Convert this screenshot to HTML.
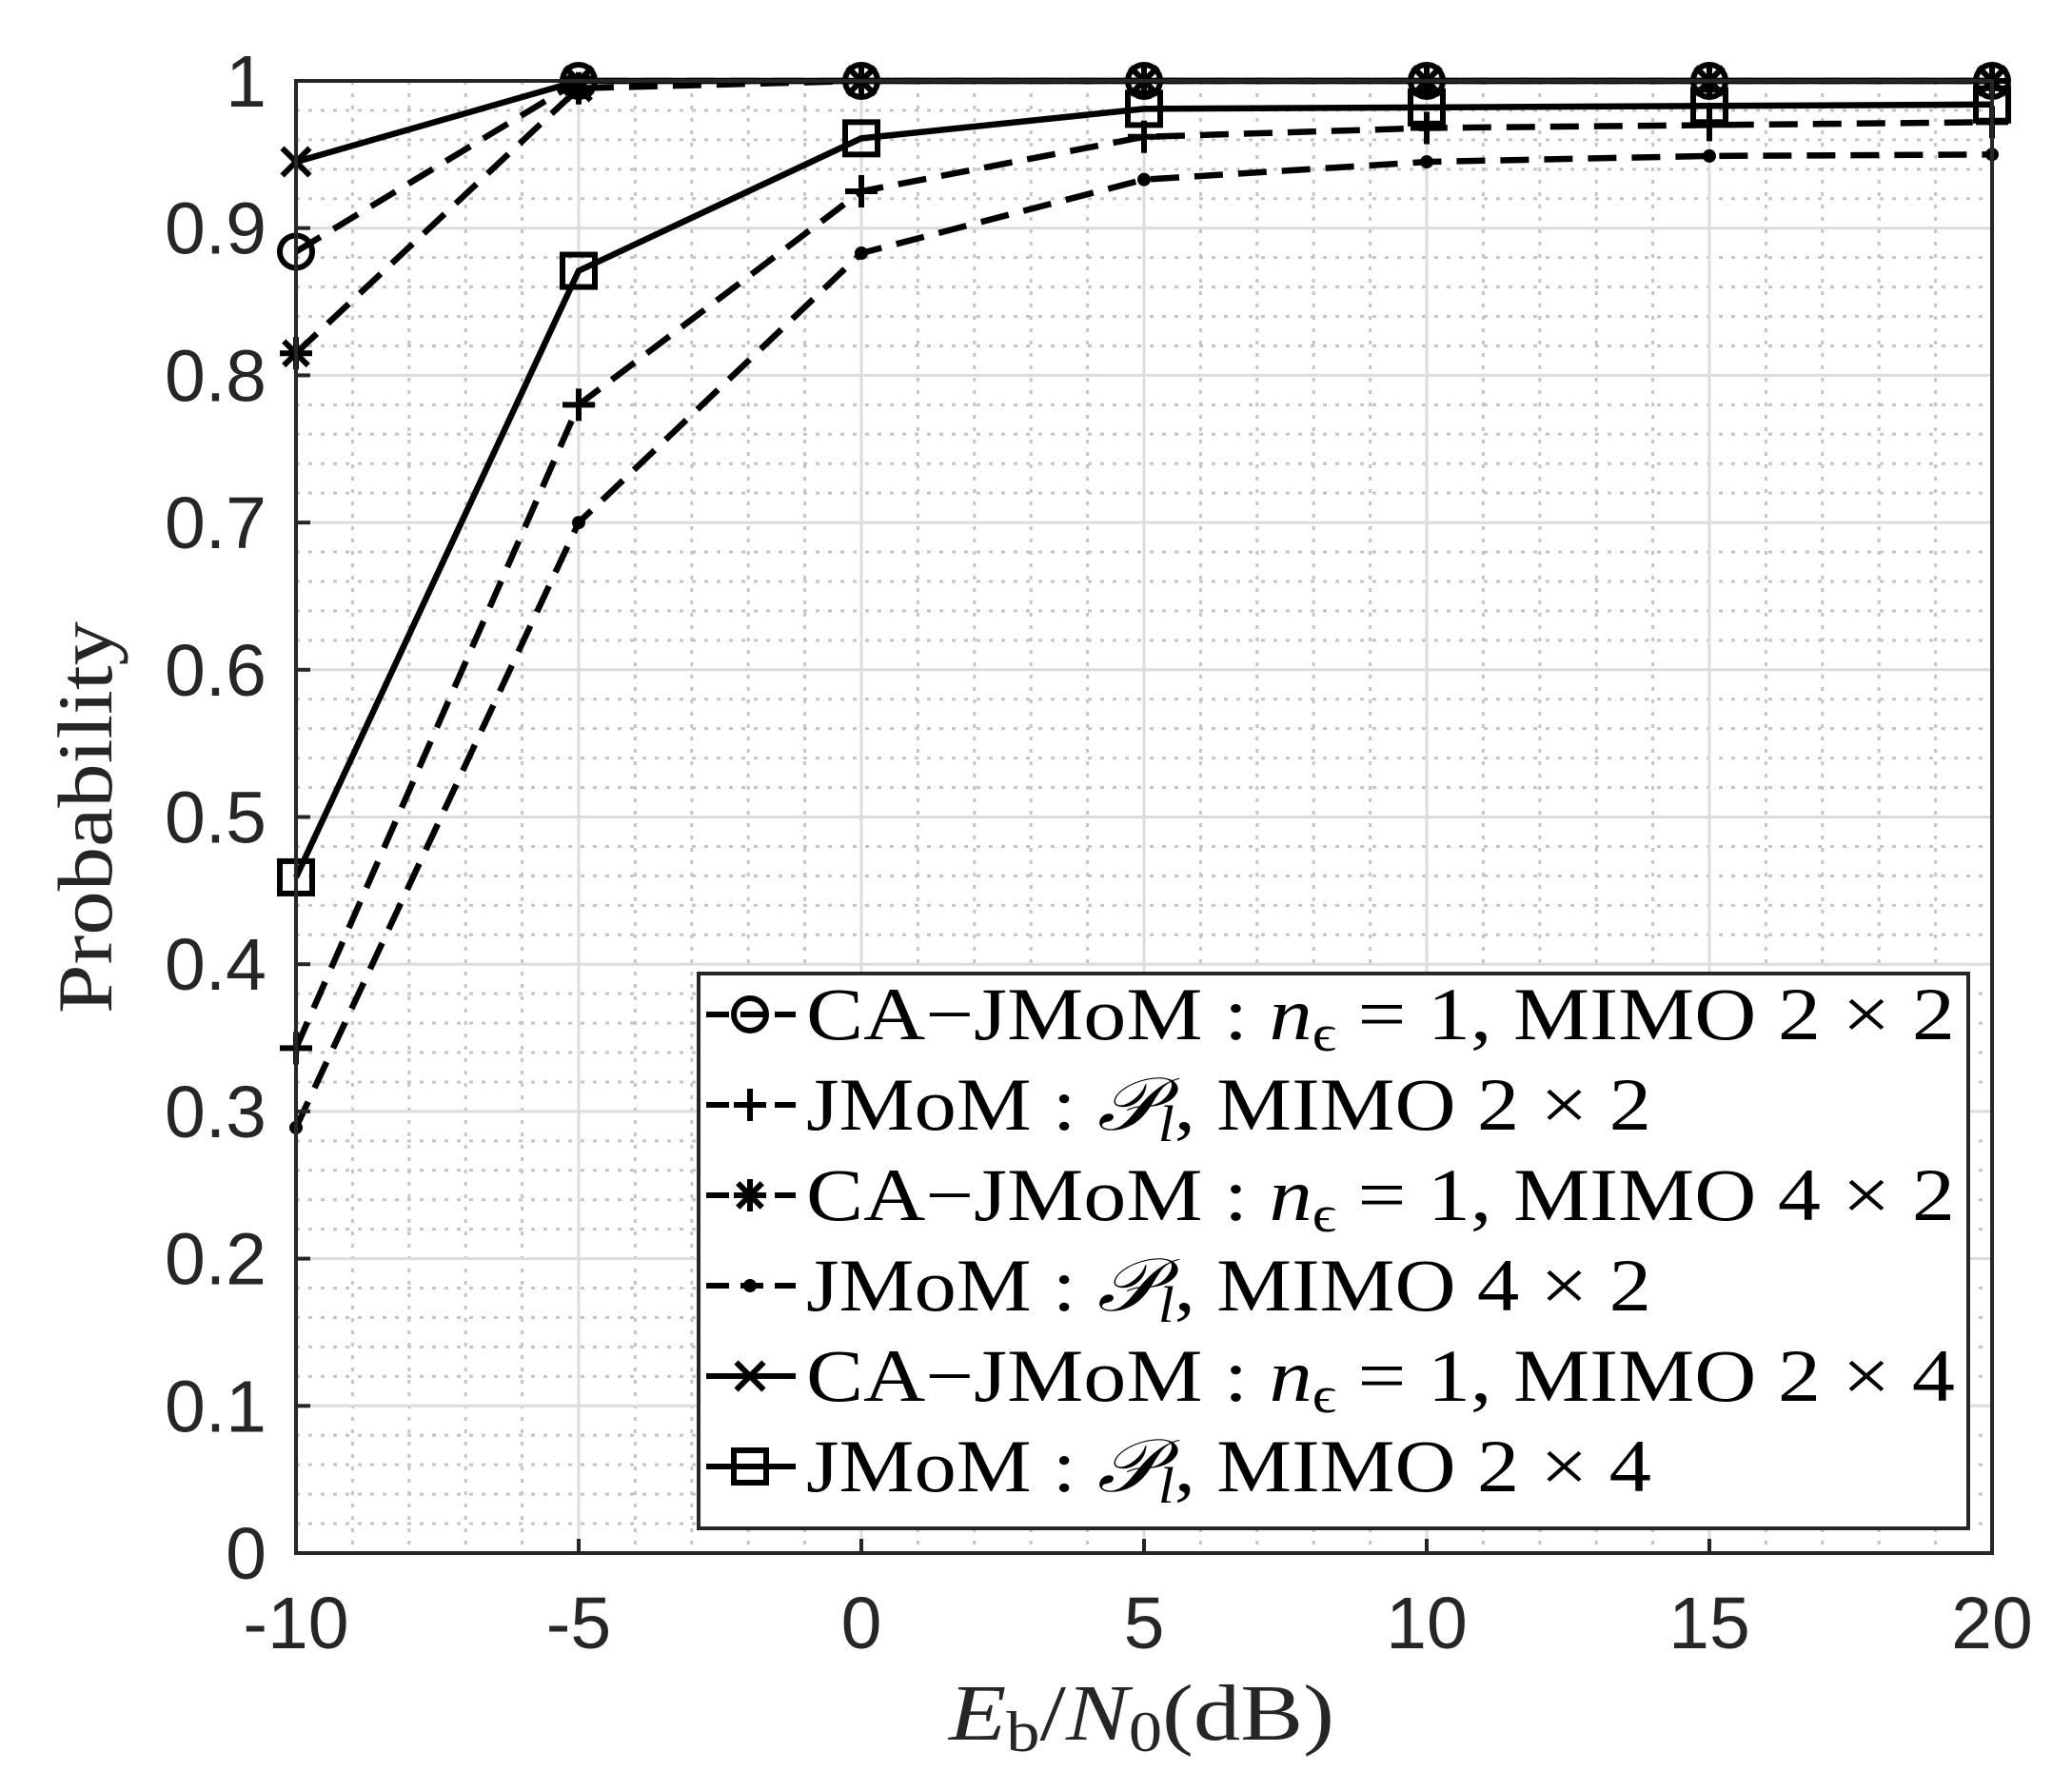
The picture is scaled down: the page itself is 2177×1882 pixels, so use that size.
<!DOCTYPE html>
<html><head><meta charset="utf-8"><style>
html,body{margin:0;padding:0;background:#fff;}
svg{display:block;}
</style></head><body>
<svg id="chart" width="2177" height="1882" viewBox="0 0 2177 1882" xmlns="http://www.w3.org/2000/svg">
<rect x="0" y="0" width="2177" height="1882" fill="#fff"/>
<g id="grid"></g>
<g id="series"></g>
<g id="axes"></g>
<g id="legend"></g>
<text transform="translate(117,859) rotate(-90)" text-anchor="middle" font-family="Liberation Serif, serif" font-size="82" fill="#262626" textLength="412" lengthAdjust="spacingAndGlyphs">Probability</text>
<text x="997" y="1828" font-family="Liberation Serif, serif" font-size="84" fill="#262626" textLength="405" lengthAdjust="spacingAndGlyphs"><tspan font-style="italic">E</tspan><tspan font-size="60" dy="12">b</tspan><tspan dy="-12">/</tspan><tspan font-style="italic">N</tspan><tspan font-size="60" dy="12">0</tspan><tspan dy="-12">(dB)</tspan></text>
</svg>
<script>
const xValues = [-10, -5, 0, 5, 10, 15, 20];
const xTicks = [-10, -5, 0, 5, 10, 15, 20];
const yTicks = [0, 0.1, 0.2, 0.3, 0.4, 0.5, 0.6, 0.7, 0.8, 0.9, 1];
const yTickLabels = ["0","0.1","0.2","0.3","0.4","0.5","0.6","0.7","0.8","0.9","1"];
const caJmom22 = [0.884, 1, 1, 1, 1, 1, 1];
const jmom22 = [0.343, 0.780, 0.925, 0.962, 0.968, 0.970, 0.972];
const caJmom42 = [0.815, 0.995, 1, 1, 1, 1, 1];
const jmom42 = [0.289, 0.700, 0.883, 0.933, 0.945, 0.949, 0.950];
const caJmom24 = [0.945, 1, 1, 1, 1, 1, 1];
const jmom24 = [0.459, 0.871, 0.961, 0.981, 0.982, 0.983, 0.984];

const L=311,R=2093,T=85,B=1632;
const NS="http://www.w3.org/2000/svg";
function sx(v){return L+(v+10)/30*(R-L);}
function sy(v){return B-v*(B-T);}
function mk(tag,attrs,parent){const e=document.createElementNS(NS,tag);for(const k in attrs)e.setAttribute(k,attrs[k]);parent.appendChild(e);return e;}
const grid=document.getElementById('grid'),axes=document.getElementById('axes'),ser=document.getElementById('series'),leg=document.getElementById('legend');

for(let v=-10;v<=20;v++){ if(v%5===0)continue;
  const l=mk('line',{x1:sx(v),x2:sx(v),y1:T,y2:B,stroke:'#c4c4c4','stroke-width':3,'stroke-dasharray':'4 9'},grid);
  
  
}
for(let i=1;i<50;i++){ if(i%5===0)continue; const v=i*0.02;
  const l=mk('line',{x1:L,x2:R,y1:sy(v),y2:sy(v),stroke:'#c4c4c4','stroke-width':3,'stroke-dasharray':'4 9'},grid);
  
  
}
xTicks.forEach(v=>{
  const l=mk('line',{x1:sx(v),x2:sx(v),y1:T,y2:B,stroke:'#dcdcdc','stroke-width':3},grid);
  
  
});
yTicks.forEach(v=>{
  const l=mk('line',{x1:L,x2:R,y1:sy(v),y2:sy(v),stroke:'#dcdcdc','stroke-width':3},grid);
  
  
});

function marker(type,x,y,g){
  const s=17,st={stroke:'#000','stroke-width':6,fill:'none'};
  let e;
  if(type==='circle'){e=mk('circle',Object.assign({cx:x,cy:y,r:s},st),g);}
  else if(type==='square'){e=mk('rect',Object.assign({x:x-s,y:y-s,width:2*s,height:2*s},st),g);}
  else if(type==='plus'){e=mk('path',Object.assign({d:`M${x-s} ${y}H${x+s}M${x} ${y-s}V${y+s}`},st),g);}
  else if(type==='x'){const d=s*0.85;e=mk('path',Object.assign({d:`M${x-d} ${y-d}L${x+d} ${y+d}M${x-d} ${y+d}L${x+d} ${y-d}`},st),g);}
  else if(type==='star'){const d=s*0.75;e=mk('path',Object.assign({d:`M${x-s} ${y}H${x+s}M${x} ${y-s}V${y+s}M${x-d} ${y-d}L${x+d} ${y+d}M${x-d} ${y+d}L${x+d} ${y-d}`},st),g);}
  else {e=mk('circle',{cx:x,cy:y,r:7,fill:'#000'},g);}
  
  
}
const seriesDefs=[
  {name:'jmom-4x2',data:jmom42,m:'dot',dash:'30 16'},
  {name:'jmom-2x2',data:jmom22,m:'plus',dash:'30 16'},
  {name:'ca-jmom-4x2',data:caJmom42,m:'star',dash:'30 16'},
  {name:'ca-jmom-2x2',data:caJmom22,m:'circle',dash:'30 16'},
  {name:'jmom-2x4',data:jmom24,m:'square',dash:''},
  {name:'ca-jmom-2x4',data:caJmom24,m:'x',dash:''}
];
seriesDefs.forEach(s=>{
  const g=mk('g',{},ser);
  
  
  const pts=s.data.map((v,i)=>sx(xValues[i])+','+sy(v)).join(' ');
  const pl=mk('polyline',{points:pts,fill:'none',stroke:'#000','stroke-width':6.5,'stroke-dasharray':s.dash||'none'},g);
  
  
  s.data.forEach((v,i)=>marker(s.m,sx(xValues[i]),sy(v),g));
});

const box=mk('rect',{x:L,y:T,width:R-L,height:B-T,fill:'none',stroke:'#262626','stroke-width':4},axes);


xTicks.forEach(v=>{
  const t=mk('line',{x1:sx(v),x2:sx(v),y1:B,y2:B-15,stroke:'#262626','stroke-width':4},axes);
  
  
  const tx=mk('text',{x:sx(v),y:1732,'text-anchor':'middle','font-family':'Liberation Sans, sans-serif','font-size':77,fill:'#262626'},axes);
  tx.textContent=String(v);
  
  
});
yTicks.forEach((v,i)=>{
  const t=mk('line',{x1:L,x2:L+15,y1:sy(v),y2:sy(v),stroke:'#262626','stroke-width':4},axes);
  
  
  const tx=mk('text',{x:280,y:sy(v)+27,'text-anchor':'end','font-family':'Liberation Sans, sans-serif','font-size':77,fill:'#262626'},axes);
  tx.textContent=yTickLabels[i];
  
  
});

const lb=mk('rect',{x:734,y:1023,width:1334,height:583,fill:'#fff',stroke:'#262626','stroke-width':4},leg);


const legendItems=[
  {m:'circle',dash:true,w:1207,parts:[['CA−JMoM : ',''],['n','i'],['ϵ','sub'],[' = 1, MIMO 2 × 2','']]},
  {m:'plus',dash:true,w:888,parts:[['JMoM : ',''],['𝒫','i'],['l','subi'],[', MIMO 2 × 2','']]},
  {m:'star',dash:true,w:1207,parts:[['CA−JMoM : ',''],['n','i'],['ϵ','sub'],[' = 1, MIMO 4 × 2','']]},
  {m:'dot',dash:true,w:888,parts:[['JMoM : ',''],['𝒫','i'],['l','subi'],[', MIMO 4 × 2','']]},
  {m:'x',dash:false,w:1207,parts:[['CA−JMoM : ',''],['n','i'],['ϵ','sub'],[' = 1, MIMO 2 × 4','']]},
  {m:'square',dash:false,w:888,parts:[['JMoM : ',''],['𝒫','i'],['l','subi'],[', MIMO 2 × 4','']]}
];
legendItems.forEach((it,i)=>{
  const base=1092+i*95, cy=base-26;
  const g=mk('g',{},leg);
  
  
  const ln=mk('line',{x1:742,x2:836,y1:cy,y2:cy,stroke:'#000','stroke-width':6,'stroke-dasharray':it.dash?'24 12':'none'},g);
  
  
  marker(it.m,788,cy,g);
  const t=mk('text',{x:847,y:base,'font-family':'Liberation Serif, DejaVu Serif, serif','font-size':78,fill:'#000',textLength:it.w,lengthAdjust:'spacingAndGlyphs'},g);
  
  
  it.parts.forEach(p=>{
    const ts=mk('tspan',{},t);
    ts.textContent=p[0];
    if(p[1]==='i')ts.setAttribute('font-style','italic');
    if(p[1]==='sub'||p[1]==='subi'){ts.setAttribute('font-size','54');ts.setAttribute('dy','12');if(p[1]==='subi')ts.setAttribute('font-style','italic');}
    if(p[1]===''&&ts.previousSibling&&ts.previousSibling.getAttribute&&ts.previousSibling.getAttribute('dy')==='12')ts.setAttribute('dy','-12');
  });
});
</script>
</body></html>
